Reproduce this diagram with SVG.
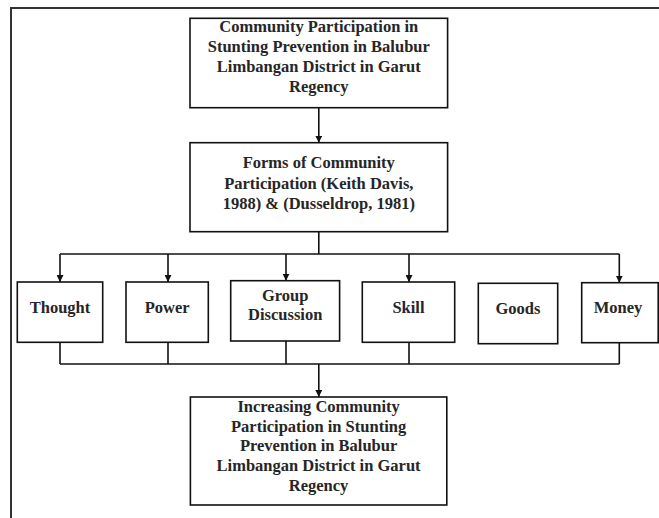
<svg xmlns="http://www.w3.org/2000/svg" width="659" height="518" viewBox="0 0 659 518">
<defs>
<style>
.box{fill:#fff;stroke:#111;stroke-width:1.6}
.frame{fill:none;stroke:#333;stroke-width:2}
.t{font-family:"Liberation Serif","Times New Roman",serif;font-size:16.5px;font-weight:bold;fill:#262626;text-anchor:middle}
.c{fill:none;stroke:#111;stroke-width:1.6}
</style>
<marker id="ah" viewBox="0 0 10 10" refX="10" refY="5" markerWidth="7" markerHeight="7" markerUnits="userSpaceOnUse" orient="auto">
<path d="M0,0 L10,5 L0,10 Z" fill="#111"/>
</marker>
</defs>
<rect width="659" height="518" fill="#fff"/>
<g id="frame">
<path class="frame" d="M11,518 V8 H659"/>
</g>
<g id="connectors">
<path class="c" d="M318.8,108 V142.7" marker-end="url(#ah)"/>
<path class="c" d="M318.8,231.7 V254"/>
<path class="c" d="M60,254 H619.3"/>
<path class="c" d="M60,254 V282" marker-end="url(#ah)"/>
<path class="c" d="M168,254 V282" marker-end="url(#ah)"/>
<path class="c" d="M286,254 V280.7" marker-end="url(#ah)"/>
<path class="c" d="M409,254 V282" marker-end="url(#ah)"/>
<path class="c" d="M619.3,254 V282.7" marker-end="url(#ah)"/>
<path class="c" d="M60,342.3 V364 M168,342.3 V364 M286,341 V364 M409,342.3 V364 M619.3,342.7 V364"/>
<path class="c" d="M60,364 H619.3"/>
<path class="c" d="M318.8,364 V397" marker-end="url(#ah)"/>
</g>
<g id="n-top">
<rect class="box" x="190" y="18.3" width="257.6" height="89.4"/>
<text class="t" x="318.8" y="32.2">Community Participation in</text>
<text class="t" x="318.8" y="51.6">Stunting Prevention in Balubur</text>
<text class="t" x="318.8" y="71.5">Limbangan District in Garut</text>
<text class="t" x="318.8" y="92">Regency</text>
</g>
<g id="n-forms">
<rect class="box" x="190" y="142.7" width="257.6" height="89"/>
<text class="t" x="318.8" y="168.4">Forms of Community</text>
<text class="t" x="318.8" y="189.4">Participation (Keith Davis,</text>
<text class="t" x="318.8" y="209.4">1988) &amp; (Dusseldrop, 1981)</text>
</g>
<g id="n-thought">
<rect class="box" x="17.3" y="282" width="85.4" height="60.3"/>
<text class="t" x="60" y="312.8">Thought</text>
</g>
<g id="n-power">
<rect class="box" x="126" y="282" width="82.3" height="60.3"/>
<text class="t" x="167.2" y="312.8">Power</text>
</g>
<g id="n-group">
<rect class="box" x="230.7" y="280.7" width="108.9" height="60.3"/>
<text class="t" x="285.2" y="301.4">Group</text>
<text class="t" x="285.2" y="319.7">Discussion</text>
</g>
<g id="n-skill">
<rect class="box" x="362.3" y="282" width="92.4" height="60.3"/>
<text class="t" x="408.5" y="312.8">Skill</text>
</g>
<g id="n-goods">
<rect class="box" x="478.3" y="283.3" width="79.4" height="60.4"/>
<text class="t" x="518" y="313.8">Goods</text>
</g>
<g id="n-money">
<rect class="box" x="581.7" y="282.7" width="76.5" height="60"/>
<text class="t" x="618" y="312.8">Money</text>
</g>
<g id="n-result">
<rect class="box" x="190.4" y="397" width="256.4" height="108"/>
<text class="t" x="318.6" y="411.7">Increasing Community</text>
<text class="t" x="318.6" y="432">Participation in Stunting</text>
<text class="t" x="318.6" y="451.4">Prevention in Balubur</text>
<text class="t" x="318.6" y="470.7">Limbangan District in Garut</text>
<text class="t" x="318.6" y="491.2">Regency</text>
</g>
</svg>
